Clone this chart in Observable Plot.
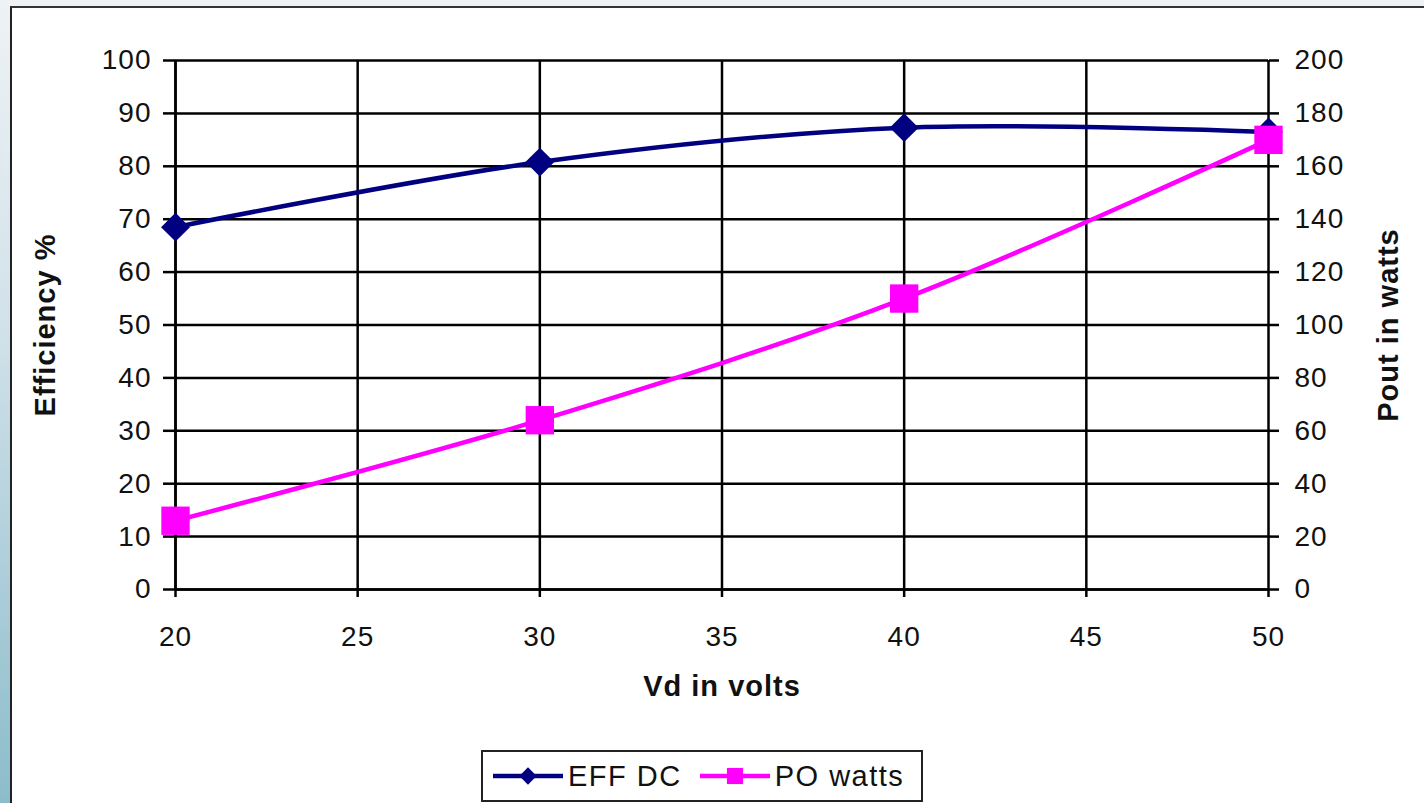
<!DOCTYPE html>
<html>
<head>
<meta charset="utf-8">
<script src="https://cdn.jsdelivr.net/npm/d3@7"></script>
<script src="https://cdn.jsdelivr.net/npm/@observablehq/plot@0.6"></script>
<style>
  html, body { margin: 0; padding: 0; }
  #wrap { position: relative; width: 1424px; height: 803px; overflow: hidden;
    background: linear-gradient(to bottom, #eef2f5 0%, #d2e2ea 40%, #8cbccb 100%); }
  #inner { position: absolute; left: 10px; top: 6px; right: 0; bottom: 0; background: #fff;
    border-left: 2px solid #222; border-top: 2px solid #333; }
  #chart { position: absolute; left: 0; top: 0; }
  #chart text { letter-spacing: 1px; }
  #legend { position: absolute; left: 481px; top: 750px; width: 442px; height: 52px;
    border: 2px solid #222; box-sizing: border-box; background: #fff;
    display: flex; align-items: center; font-family: "Liberation Sans", Arial, sans-serif;
    font-size: 29px; color: #111; letter-spacing: 1.5px; }
  #legend .item { display: flex; align-items: center; margin-left: 8px; }
  #legend .item + .item { margin-left: 16px; }
  #legend svg { display: block; margin-right: 3px; }
</style>
</head>
<body>
<div id="wrap">
  <div id="inner"></div>
  <div id="chart"></div>
  <div id="legend"></div>
</div>
<script>
const volts = [20, 30, 40, 50];
const effDC = [68.5, 80.8, 87.3, 86.5];
const poWatts = [26, 64, 110, 170];
const xTicks = [20, 25, 30, 35, 40, 45, 50];
const yLeftTicks = [0, 10, 20, 30, 40, 50, 60, 70, 80, 90, 100];
const yRightTicks = [0, 20, 40, 60, 80, 100, 120, 140, 160, 180, 200];
const seriesNames = ["EFF DC", "PO watts"];
const seriesColors = ["#000080", "#ff00ff"];

const effData = volts.map((v, i) => ({v, y: effDC[i]}));
const poData = volts.map((v, i) => ({v, y: poWatts[i]}));
const ratio = 100 / 200;

const font = "Liberation Sans, Arial, sans-serif";

const plot = Plot.plot({
  width: 1424,
  height: 745,
  marginLeft: 175,
  marginRight: 156,
  marginTop: 60,
  marginBottom: 156,
  style: {background: "transparent", fontFamily: font, fontSize: "28px", color: "#111"},
  x: {domain: [20, 50]},
  y: {domain: [0, 100]},
  marks: [
    Plot.gridY(yLeftTicks, {stroke: "#000", strokeOpacity: 1, strokeWidth: 2.5}),
    Plot.gridX(xTicks, {stroke: "#000", strokeOpacity: 1, strokeWidth: 2.5}),
    Plot.ruleX([20], {stroke: "#000", strokeWidth: 2.5}),
    Plot.ruleY([0], {stroke: "#000", strokeWidth: 2.5}),
    Plot.axisY(yLeftTicks, {anchor: "left", tickSize: 12, tickPadding: 12, fontSize: 28, stroke: "#000", strokeWidth: 2.5, label: null}),
    Plot.axisY(yLeftTicks, {anchor: "right", tickSize: 10, tickPadding: 16, fontSize: 28, stroke: "#000", strokeWidth: 2.5, label: null,
      tickFormat: d => String(Math.round(d / ratio))}),
    Plot.axisX(xTicks, {anchor: "bottom", tickSize: 8, tickPadding: 29, fontSize: 28, stroke: "#000", strokeWidth: 2.5, label: null}),
    Plot.text(["Vd in volts"], {frameAnchor: "bottom", dy: 106, fontSize: 29, fontWeight: "bold", fill: "#111", textAnchor: "middle", letterSpacing: "0px"}),
    Plot.text(["Efficiency %"], {frameAnchor: "left", dx: -130, rotate: -90, fontSize: 29, fontWeight: "bold", fill: "#111", textAnchor: "middle"}),
    Plot.text(["Pout in watts"], {frameAnchor: "right", dx: 120, rotate: -90, fontSize: 29, fontWeight: "bold", fill: "#111", textAnchor: "middle"}),
    Plot.line(poData, {x: "v", y: d => d.y * ratio, stroke: seriesColors[1], strokeWidth: 4.5, curve: "catmull-rom"}),
    Plot.line(effData, {x: "v", y: "y", stroke: seriesColors[0], strokeWidth: 4.5, curve: "catmull-rom"}),
    Plot.dot(effData, {x: "v", y: "y", symbol: "diamond2", r: 13, fill: seriesColors[0], stroke: "none"}),
    Plot.dot(poData, {x: "v", y: d => d.y * ratio, symbol: "square", r: 16, fill: seriesColors[1], stroke: "none"})
  ]
});
document.getElementById("chart").appendChild(plot);

// legend
const legend = d3.select("#legend");
const symbols = [d3.symbolDiamond2, d3.symbolSquare];
seriesNames.forEach((name, i) => {
  const item = legend.append("div").attr("class", "item");
  const s = item.append("svg").attr("width", 74).attr("height", 32);
  s.append("line").attr("x1", 2).attr("x2", 72).attr("y1", 16).attr("y2", 16)
    .attr("stroke", seriesColors[i]).attr("stroke-width", 4.5);
  s.append("path").attr("d", d3.symbol(symbols[i], i === 0 ? 190 : 260)()).attr("transform", "translate(37,16)")
    .attr("fill", seriesColors[i]);
  item.append("span").text(name);
});
</script>
</body>
</html>
